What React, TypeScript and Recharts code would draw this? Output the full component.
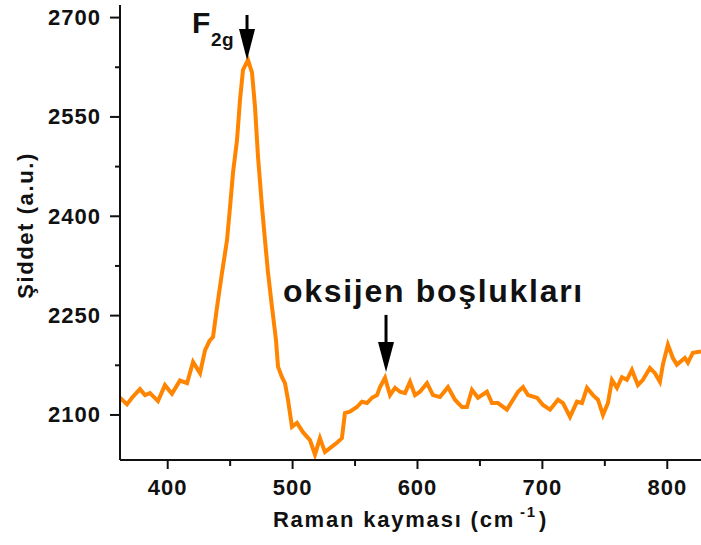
import { LineChart, Line, XAxis, YAxis, ReferenceDot } from "recharts";

// Raman spectrum
const ramanShift = [
  361.8, 367.4, 371.4, 377.8, 381.8, 385.8, 392.2, 397.8, 403.4, 409.8, 415.5,
  420.3, 425.9, 429.9, 433.5, 436.3, 439.5, 443.5, 447.5, 449.9, 452.3, 455.5,
  457.9, 460.3, 464.3, 467.5, 469.9, 472.3, 475.5, 477.9, 480.3, 483.5, 486.7,
  488.3, 491.5, 493.9, 496.3, 499.5, 503.5, 508.3, 513.9, 517.9, 521.9, 525.9,
  529.9, 535.5, 539.5, 541.9, 545.9, 551.5, 555.5, 559.6, 563.6, 567.6, 570.0,
  574.0, 578.0, 582.0, 586.0, 590.0, 594.0, 598.0, 602.0, 607.6, 612.4, 618.0,
  624.4, 630.0, 635.6, 639.6, 643.6, 648.4, 655.6, 659.6, 664.4, 671.6, 676.5,
  680.5, 684.5, 688.5, 695.7, 700.5, 706.1, 712.5, 716.5, 722.1, 727.7, 731.7,
  735.7, 740.5, 744.5, 748.5, 752.5, 755.7, 759.7, 763.7, 767.7, 771.7, 776.5,
  780.5, 786.1, 790.1, 794.1, 796.5, 800.5, 804.5, 807.7, 814.1, 816.5, 820.5,
  827.0,
];

const intensity = [
  2126, 2116, 2126, 2139, 2130, 2133, 2121, 2145, 2132, 2152, 2148,
  2180, 2163, 2198, 2212, 2218, 2263, 2315, 2364, 2414, 2466, 2515,
  2576, 2621, 2636, 2617, 2565, 2490, 2414, 2364, 2315, 2263, 2213,
  2173, 2157, 2148, 2123, 2082, 2088, 2074, 2062, 2040, 2065, 2044,
  2050, 2058, 2065, 2103, 2105, 2112, 2120, 2118, 2126, 2130, 2142,
  2156, 2130, 2141, 2135, 2133, 2150, 2130, 2135, 2148, 2130, 2127,
  2142, 2123, 2112, 2112, 2138, 2126, 2135, 2118, 2118, 2108, 2123,
  2135, 2142, 2130, 2126, 2115, 2108, 2123, 2118, 2097, 2120, 2118,
  2141, 2130, 2123, 2100, 2118, 2153, 2141, 2157, 2153, 2168, 2145,
  2153, 2171, 2163, 2150, 2176, 2206, 2186, 2176, 2186, 2179, 2194,
  2196,
];

const xTicks = [400, 450, 500, 550, 600, 650, 700, 750, 800];
const xLabeled = [400, 500, 600, 700, 800];
const yTicks = [2100, 2175, 2250, 2325, 2400, 2475, 2550, 2625, 2700];
const yLabeled = [2100, 2250, 2400, 2550, 2700];

const xDomain = [361.8, 827];
const yDomain = [2032, 2719];

// arrow tips (data coords)
const f2gPeak = { x: 463.5, y: 2636 };
const vacancyPeak = { x: 574.8, y: 2165 };

const data = ramanShift.map((s, i) => ({ shift: s, value: intensity[i] }));

const FONT = "'Liberation Sans', Arial, sans-serif";
const INK = "#111";

const XTick = ({ x, y, payload }: any) => {
  const major = xLabeled.includes(payload.value);
  return (
    <g>
      <line x1={x} y1={y} x2={x} y2={y + (major ? 9 : 6)} stroke={INK} strokeWidth={2} />
      {major && (
        <text x={x} y={y + 35} textAnchor="middle" fontFamily={FONT} fontWeight="bold"
          fontSize={22} fill={INK} style={{ letterSpacing: 1 }}>
          {payload.value}
        </text>
      )}
    </g>
  );
};

const YTick = ({ x, y, payload }: any) => {
  const major = yLabeled.includes(payload.value);
  return (
    <g>
      <line x1={x} y1={y} x2={x - (major ? 10 : 5)} y2={y} stroke={INK} strokeWidth={2} />
      {major && (
        <text x={x - 19} y={y} textAnchor="end" dominantBaseline="central" fontFamily={FONT}
          fontWeight="bold" fontSize={22} fill={INK} style={{ letterSpacing: 1 }}>
          {payload.value}
        </text>
      )}
    </g>
  );
};

const Arrow = ({ cx, cy, head, total }: any) => (
  <g>
    <line x1={cx} y1={cy - total} x2={cx} y2={cy - head + 2} stroke="#000" strokeWidth={3} />
    <polygon points={`${cx - 8},${cy - head} ${cx + 8},${cy - head} ${cx},${cy}`} fill="#000" />
  </g>
);

export default function App() {
  return (
    <div style={{ position: "absolute", left: 0, top: 0, background: "#fff" }}>
      <LineChart width={701} height={545} data={data}
        margin={{ top: 5, right: 0, left: 0, bottom: 0 }}>
        <XAxis xAxisId="x" dataKey="shift" type="number" domain={xDomain} allowDataOverflow
          ticks={xTicks} tickSize={0} tickMargin={0} tickLine={false} height={85}
          axisLine={{ stroke: INK, strokeWidth: 2 }} tick={<XTick />}
          label={{
            content: ({ viewBox }: any) => (
              <text x={viewBox.x + viewBox.width / 2} y={viewBox.y + 67} textAnchor="middle"
                fontFamily={FONT} fontWeight="bold" fontSize={22} fill={INK}
                style={{ letterSpacing: 1.8 }}>
                Raman kayması (cm
                <tspan dx={5} dy={-10} fontSize={15}>-1</tspan>
                <tspan dx={2} dy={10}>)</tspan>
              </text>
            ),
          }} />
        <XAxis xAxisId="top" orientation="top" dataKey="shift" type="number" domain={xDomain}
          allowDataOverflow height={0} tick={false} tickLine={false}
          axisLine={{ stroke: INK, strokeWidth: 2 }} />
        <YAxis dataKey="value" type="number" domain={yDomain} allowDataOverflow ticks={yTicks}
          width={120} tickSize={0} tickMargin={0} tickLine={false}
          axisLine={{ stroke: INK, strokeWidth: 2 }} tick={<YTick />}
          label={{
            content: ({ viewBox }: any) => {
              const cx = 25;
              const cy = viewBox.y + viewBox.height / 2 - 7;
              return (
                <text x={cx} y={cy} transform={`rotate(-90 ${cx} ${cy})`} textAnchor="middle"
                  dominantBaseline="central" fontFamily={FONT} fontWeight="bold" fontSize={22}
                  fill={INK} style={{ letterSpacing: 1.6 }}>
                  Şiddet (a.u.)
                </text>
              );
            },
          }} />
        <Line xAxisId="x" type="linear" dataKey="value" stroke="#ff8400" strokeWidth={4}
          dot={false} isAnimationActive={false} />
        <ReferenceDot xAxisId="x" x={f2gPeak.x} y={f2gPeak.y} ifOverflow="visible"
          shape={(p: any) => (
            <g>
              <Arrow cx={p.cx} cy={p.cy} head={31} total={45} />
              <text x={p.cx - 55} y={p.cy - 27} fontFamily={FONT} fontWeight="bold" fontSize={30}
                fill={INK}>F</text>
              <text x={p.cx - 36} y={p.cy - 14} fontFamily={FONT} fontWeight="bold" fontSize={19}
                fill={INK} style={{ letterSpacing: 0.5 }}>2g</text>
            </g>
          )} />
        <ReferenceDot xAxisId="x" x={vacancyPeak.x} y={vacancyPeak.y} ifOverflow="visible"
          shape={(p: any) => (
            <g>
              <Arrow cx={p.cx} cy={p.cy} head={30} total={57} />
              <text x={p.cx - 103} y={p.cy - 70} fontFamily={FONT} fontWeight="bold" fontSize={32}
                fill={INK} style={{ letterSpacing: 1.7 }}>oksijen boşlukları</text>
            </g>
          )} />
      </LineChart>
    </div>
  );
}
